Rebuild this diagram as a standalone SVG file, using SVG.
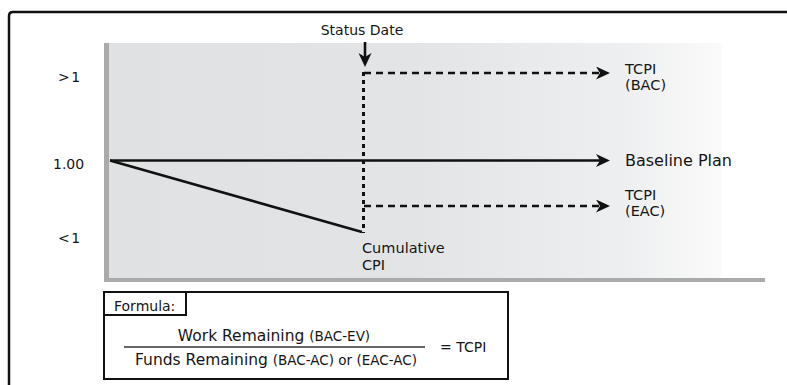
<svg xmlns="http://www.w3.org/2000/svg" width="787" height="385" viewBox="0 0 787 385">
  <style>
    text { font-family: "DejaVu Sans", "Liberation Sans", sans-serif; fill: #151515; }
    .lbl { font-size: 14px; }
    .big { font-size: 14.5px; }
    .solid { stroke: #111; stroke-width: 2.6; fill: none; }
    .dash { stroke: #111; stroke-width: 2.6; fill: none; stroke-dasharray: 7 5; }
    .dot { stroke: #111; stroke-width: 3; fill: none; stroke-dasharray: 4 4; }
    .axis { fill: #a9aaac; }
    .box { fill: #fff; stroke: #111; stroke-width: 2; }
  </style>
  <defs>
    <linearGradient id="plotFill" gradientUnits="userSpaceOnUse" x1="108" y1="0" x2="722" y2="0">
      <stop offset="0" stop-color="#e0e1e3"/>
      <stop offset="0.5" stop-color="#e3e4e6"/>
      <stop offset="0.85" stop-color="#eeeff0"/>
      <stop offset="1" stop-color="#fbfbfb"/>
    </linearGradient>
    <marker id="head" markerUnits="userSpaceOnUse" markerWidth="16" markerHeight="14" refX="4" refY="6.5" orient="auto">
      <path d="M0,0 L14,6.5 L0,13 L4,6.5 Z" fill="#111"/>
    </marker>
  </defs>

  <!-- outer frame -->
  <path d="M9,390 V16 Q9,12 13,12 H790" fill="none" stroke="#111" stroke-width="2.5"/>

  <!-- plot area and axes -->
  <g id="plot">
    <rect x="108" y="43" width="614" height="236" fill="url(#plotFill)"/>
    <rect class="axis" x="104" y="43" width="5" height="239"/>
    <rect class="axis" x="104" y="278" width="661" height="4"/>
  </g>

  <g id="axis-labels">
    <text class="lbl" x="58" y="82" letter-spacing="1.5">&gt;1</text>
    <text class="lbl" x="53" y="169">1.00</text>
    <text class="lbl" x="58" y="243" letter-spacing="1.5">&lt;1</text>
  </g>

  <g id="status-date">
    <text class="lbl" x="362" y="35" text-anchor="middle">Status Date</text>
  </g>

  <g id="tcpi-bac">
    <text class="big"><tspan x="625" y="74">TCPI</tspan><tspan x="625" y="90">(BAC)</tspan></text>
  </g>

  <g id="baseline-plan">
    <text x="625" y="166" font-size="16">Baseline Plan</text>
  </g>

  <g id="tcpi-eac">
    <text class="big"><tspan x="625" y="200">TCPI</tspan><tspan x="625" y="216">(EAC)</tspan></text>
  </g>

  <g id="cumulative-cpi">
    <text class="big"><tspan x="362" y="253">Cumulative</tspan><tspan x="362" y="270">CPI</tspan></text>
  </g>

  <!-- connectors -->
  <g id="connectors">
    <line class="solid" x1="365" y1="42" x2="365" y2="57" marker-end="url(#head)"/>
    <line class="dot" x1="363.5" y1="72" x2="363.5" y2="233"/>
    <line class="dash" x1="364" y1="73" x2="600" y2="73" marker-end="url(#head)"/>
    <line class="solid" x1="110" y1="160.5" x2="600" y2="160.5" marker-end="url(#head)"/>
    <line class="dash" x1="364" y1="206" x2="600" y2="206" marker-end="url(#head)"/>
    <line class="solid" x1="110" y1="160.5" x2="362" y2="232"/>
  </g>

  <g id="formula">
    <rect class="box" x="104" y="292" width="404" height="87"/>
    <rect class="box" x="104" y="292" width="82" height="23"/>
    <text class="lbl" x="114" y="311">Formula:</text>
    <text x="274" y="341" text-anchor="middle"><tspan font-size="15.5">Work Remaining </tspan><tspan font-size="13.5">(BAC-EV)</tspan></text>
    <line x1="124" y1="347" x2="425" y2="347" stroke="#333" stroke-width="1.5"/>
    <text x="276" y="365" text-anchor="middle"><tspan font-size="15.5">Funds Remaining </tspan><tspan font-size="13.5">(BAC-AC) or (EAC-AC)</tspan></text>
    <text class="lbl" x="440" y="352">= TCPI</text>
  </g>
</svg>
